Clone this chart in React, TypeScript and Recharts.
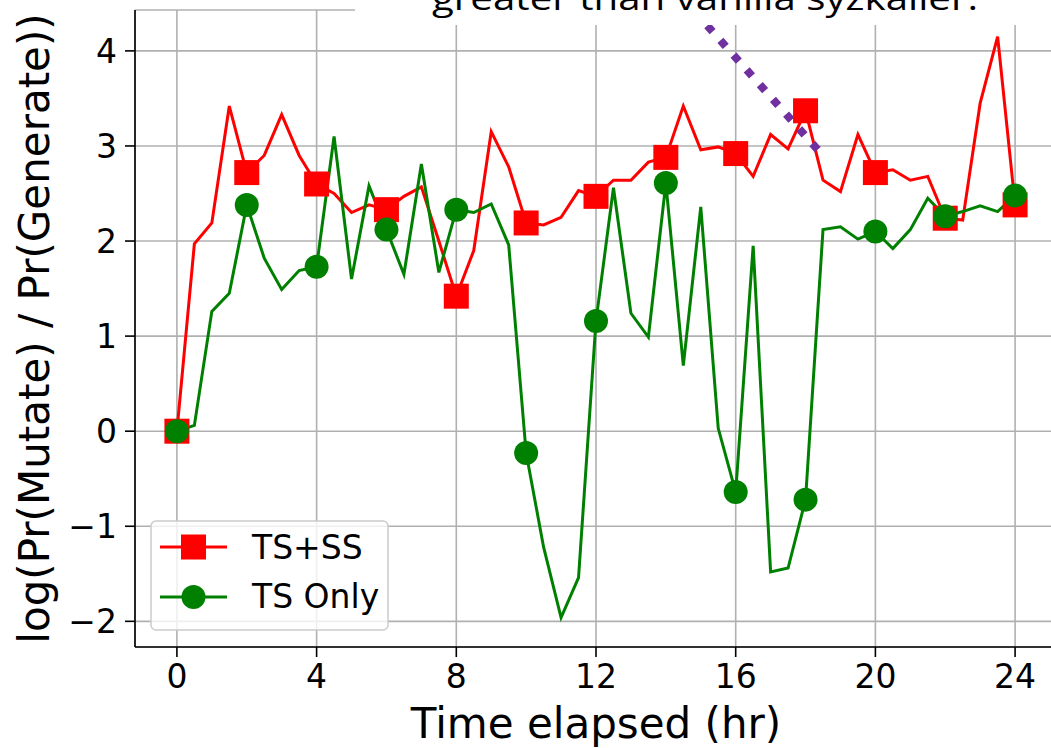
import React from 'react';
import { LineChart, Line, XAxis, YAxis, CartesianGrid, Legend, ReferenceLine } from 'recharts';

// half-hour samples, markers every 2 hours
const hours = [
  0, 0.5, 1, 1.5, 2, 2.5, 3, 3.5, 4, 4.5, 5, 5.5, 6, 6.5, 7, 7.5,
  8, 8.5, 9, 9.5, 10, 10.5, 11, 11.5, 12, 12.5, 13, 13.5, 14, 14.5, 15, 15.5,
  16, 16.5, 17, 17.5, 18, 18.5, 19, 19.5, 20, 20.5, 21, 21.5, 22, 22.5, 23, 23.5, 24,
];

const tsSs = [
  0, 1.97, 2.19, 3.42, 2.72, 2.9, 3.33, 2.9, 2.6, 2.5, 2.3, 2.38, 2.33, 2.47, 2.57, 2.0,
  1.42, 1.9, 3.15, 2.78, 2.19, 2.17, 2.25, 2.53, 2.47, 2.64, 2.64, 2.83, 2.88, 3.42, 2.96, 2.99,
  2.92, 2.68, 3.12, 2.97, 3.37, 2.64, 2.52, 3.12, 2.72, 2.75, 2.64, 2.68, 2.24, 2.22, 3.45, 4.15, 2.38,
];

const tsOnly = [
  0, 0.06, 1.26, 1.45, 2.38, 1.82, 1.49, 1.69, 1.73, 3.1, 1.6, 2.58, 2.12, 1.65, 2.81, 1.67,
  2.33, 2.3, 2.39, 1.96, -0.23, -1.22, -1.96, -1.54, 1.16, 2.56, 1.24, 0.99, 2.61, 0.69, 2.36, 0.03,
  -0.64, 1.95, -1.48, -1.44, -0.72, 2.12, 2.15, 2.02, 2.1, 1.92, 2.12, 2.45, 2.26, 2.31, 2.37, 2.31, 2.48,
];

const xTicks = [0, 4, 8, 12, 16, 20, 24];
const yTicks = [-2, -1, 0, 1, 2, 3, 4];

const rows = hours.map((h, i) => ({ hour: h, tsSs: tsSs[i], tsOnly: tsOnly[i] }));

const FONT = '"DejaVu Sans", Verdana, sans-serif';
const RED = '#ff0000';
const GREEN = '#008000';
const PURPLE = '#7030a0';

const fmt = (v: number) => (v < 0 ? `\u2212${-v}` : `${v}`);

function SquareDot(props: any) {
  const { cx, cy, index } = props;
  if (index % 4 !== 0) return <g key={`s${index}`} />;
  return <rect key={`s${index}`} x={cx - 12.5} y={cy - 12.5} width={25} height={25} fill={RED} />;
}

function CircleDot(props: any) {
  const { cx, cy, index } = props;
  if (index % 4 !== 0) return <g key={`c${index}`} />;
  return <circle key={`c${index}`} cx={cx} cy={cy} r={12} fill={GREEN} />;
}

function LegendBox() {
  return (
    <svg width={240} height={112} style={{ display: 'block' }}>
      <rect x={1} y={1} width={237} height={109} rx={5} fill="rgba(255,255,255,0.8)" stroke="#cccccc" strokeWidth={1.5} />
      <line x1={10} x2={77} y1={27} y2={27} stroke={RED} strokeWidth={3} />
      <rect x={31} y={14.5} width={25} height={25} fill={RED} />
      <text x={102} y={39} fontFamily={FONT} fontSize={33} fill="#000">TS+SS</text>
      <line x1={10} x2={77} y1={77} y2={77} stroke={GREEN} strokeWidth={3} />
      <circle cx={43.5} cy={77} r={12} fill={GREEN} />
      <text x={102} y={88} fontFamily={FONT} fontSize={33} fill="#000">TS Only</text>
    </svg>
  );
}

export default function App() {
  const axisStyle = { stroke: '#000', strokeWidth: 1.6 };
  return (
    <div style={{ position: 'absolute', left: 0, top: 0, width: 1051, height: 748, overflow: 'hidden', background: '#fff' }}>
      <LineChart width={1057} height={748} data={rows} margin={{ top: 10, right: 0, bottom: 0, left: 0 }}>
        <CartesianGrid stroke="#b0b0b0" strokeWidth={1.6} />
        <XAxis
          dataKey="hour"
          type="number"
          domain={[-1.2, 25.2]}
          ticks={xTicks}
          allowDataOverflow
          height={101}
          tickSize={10}
          tickMargin={8}
          axisLine={axisStyle}
          tickLine={axisStyle}
          tick={{ fontSize: 33, fill: '#000', fontFamily: FONT }}
          label={{ value: 'Time elapsed (hr)', position: 'insideBottom', offset: 10, fontSize: 42, fill: '#000', fontFamily: FONT }}
        />
        <XAxis
          xAxisId="top"
          orientation="top"
          type="number"
          domain={[-1.2, 25.2]}
          height={0}
          tick={false}
          tickLine={false}
          axisLine={axisStyle}
        />
        <YAxis
          type="number"
          domain={[-2.27, 4.43]}
          ticks={yTicks}
          allowDataOverflow
          width={135}
          tickSize={10}
          tickMargin={8}
          axisLine={axisStyle}
          tickLine={axisStyle}
          tickFormatter={fmt}
          tick={{ fontSize: 33, fill: '#000', fontFamily: FONT }}
          label={{
            content: () => (
              <text
                transform="rotate(-90 49 328.5)"
                x={49}
                y={328.5}
                textAnchor="middle"
                fontSize={42}
                fontFamily={FONT}
                fill="#000"
              >
                log(Pr(Mutate) / Pr(Generate))
              </text>
            ),
          }}
        />
        <Line
          type="linear"
          dataKey="tsSs"
          name="TS+SS"
          stroke={RED}
          strokeWidth={3}
          dot={SquareDot}
          activeDot={false}
          isAnimationActive={false}
        />
        <Line
          type="linear"
          dataKey="tsOnly"
          name="TS Only"
          stroke={GREEN}
          strokeWidth={3}
          dot={CircleDot}
          activeDot={false}
          isAnimationActive={false}
        />
        <ReferenceLine
          segment={[{ x: 15.186, y: 4.265 }, { x: 18.348, y: 2.961 }]}
          stroke={PURPLE}
          strokeWidth={8}
          strokeDasharray="8 11.75"
          ifOverflow="visible"
        />
        <Legend
          layout="horizontal"
          verticalAlign="middle"
          align="center"
          content={() => <LegendBox />}
          wrapperStyle={{ left: 150, top: 520, width: 240, height: 112 }}
        />
      </LineChart>
      <svg width={1051} height={748} style={{ position: 'absolute', left: 0, top: 0, pointerEvents: 'none' }}>
        <rect x={355} y={0} width={696} height={25} fill="#fff" />
        <text x={432} y={10} fontFamily='"Open Sans", sans-serif' fontSize={33} fill="#000" textLength={546} lengthAdjust="spacingAndGlyphs">
          greater than vanilla syzkaller.
        </text>
      </svg>
    </div>
  );
}
